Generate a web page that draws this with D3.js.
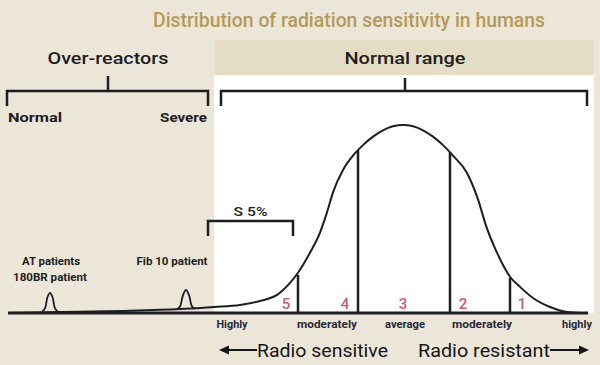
<!DOCTYPE html>
<html>
<head>
<meta charset="utf-8">
<script src="https://cdn.jsdelivr.net/npm/d3@7"></script>
<style>
  html, body { margin: 0; padding: 0; background: #ece6d9; }
  svg { display: block; }
  text { font-family: Roboto, "Noto Sans", sans-serif; }
</style>
</head>
<body>
<svg id="chart" width="600" height="365"></svg>
<script>
// ---------- DATA ----------
// Sensitivity axis: 0 = most sensitive (left) ... 580 = most resistant (right)
const curveX = [0, 52, 112, 172, 206, 232, 252, 269, 282, 290, 302, 312, 319, 325, 335, 345, 355, 365, 375, 385, 395, 405, 415, 425, 435, 445, 459, 470, 478, 489, 502, 512, 525, 542, 559, 572];
const curveY = [0, 0.5, 1.1, 2.1, 3.2, 4.3, 6.4, 9.6, 16.0, 21.4, 32.1, 42.8, 53.5, 64.2, 76.1, 83.7, 89.3, 93.8, 97.2, 99.3, 100, 99.3, 97.2, 93.8, 89.3, 83.7, 74.5, 60.4, 46.5, 32.1, 19.3, 13.9, 8.0, 3.2, 0.5, 0];

const atBumpX = [34, 37, 39.5, 42, 44.5, 47, 50];
const atBumpY = [0.6, 2.5, 8.5, 10.7, 8.5, 2.5, 0.7];
const fibBumpX = [169, 172, 175, 178, 181, 184, 187];
const fibBumpY = [2.0, 3.5, 9.5, 12.3, 9.5, 3.5, 2.3];

const dividerX = [290, 350, 442, 502];
const dividerY = [20.3, 86.6, 85.5, 18.7];

const groupNumbers = ["5", "4", "3", "2", "1"];
const groupNumberX = [278, 337, 395, 455, 514];

const categories = ["Highly", "moderately", "average", "moderately", "highly"];
const categoryX = [224, 319, 397, 474, 569];
const categoryW = [31, 60, 40, 60, 30];

const s5Range = [200, 285];
const patientLabels = ["AT patients", "180BR patient", "Fib 10 patient"];

const titleText = "Distribution of radiation sensitivity in humans";
const groupHeaders = ["Over-reactors", "Normal range"];
const overLabels = ["Normal", "Severe"];
const directionLabels = ["Radio sensitive", "Radio resistant"];

// ---------- DRAWING ----------
const svg = d3.select("#chart");
const x = d3.scaleLinear().domain([0, 580]).range([8, 588]);
const y = d3.scaleLinear().domain([0, 100]).range([313, 125]);

const dark = "#1e1d22";
const numColor = "#c4616b";

// backgrounds
svg.append("rect").attr("x", 0).attr("y", 0).attr("width", 600).attr("height", 365).attr("fill", "#ece6d9");
svg.append("rect").attr("x", 215).attr("y", 40).attr("width", 379).attr("height", 35).attr("fill", "#e4dcc5");
svg.append("rect").attr("x", 214).attr("y", 75).attr("width", 380).attr("height", 238).attr("fill", "#ffffff");

// title
svg.append("text").attr("x", 349).attr("y", 27).attr("text-anchor", "middle")
  .attr("font-size", 21).attr("font-weight", 500).attr("fill", "#b59b57")
  .attr("textLength", 392).attr("lengthAdjust", "spacingAndGlyphs").text(titleText);

// group headers
svg.append("text").attr("x", 108).attr("y", 64).attr("text-anchor", "middle")
  .attr("font-size", 17).attr("font-weight", 500).attr("fill", dark)
  .attr("textLength", 121).attr("lengthAdjust", "spacingAndGlyphs").text(groupHeaders[0]);
svg.append("text").attr("x", 405).attr("y", 64).attr("text-anchor", "middle")
  .attr("font-size", 17).attr("font-weight", 500).attr("fill", dark)
  .attr("textLength", 121).attr("lengthAdjust", "spacingAndGlyphs").text(groupHeaders[1]);

// brackets
function bracket(x1, x2, yy, drop, stemX, stemTop) {
  const g = svg.append("g").attr("fill", "none").attr("stroke", dark).attr("stroke-width", 2.5);
  g.append("path").attr("d", `M${x1},${yy + drop}V${yy}H${x2}V${yy + drop}`);
  if (stemX != null) g.append("line").attr("x1", stemX).attr("x2", stemX).attr("y1", stemTop).attr("y2", yy);
}
bracket(7, 208, 91, 15, 108, 76);
bracket(221, 587, 91, 15, 405, 78);

svg.append("text").attr("x", 8).attr("y", 122).attr("font-size", 13).attr("font-weight", 700)
  .attr("fill", dark).attr("textLength", 54).attr("lengthAdjust", "spacingAndGlyphs").text(overLabels[0]);
svg.append("text").attr("x", 207).attr("y", 122).attr("text-anchor", "end").attr("font-size", 13).attr("font-weight", 700)
  .attr("fill", dark).attr("textLength", 47).attr("lengthAdjust", "spacingAndGlyphs").text(overLabels[1]);

// S 5% bracket
bracket(x(s5Range[0]), x(s5Range[1]), 221, 15, null, null);
svg.append("text").attr("x", (x(s5Range[0]) + x(s5Range[1])) / 2).attr("y", 216).attr("text-anchor", "middle")
  .attr("font-size", 13).attr("font-weight", 500).attr("fill", dark)
  .attr("textLength", 34).attr("lengthAdjust", "spacingAndGlyphs").text("S 5%");

// curve
const mainLine = d3.line().x(d => x(d[0])).y(d => y(d[1])).curve(d3.curveMonotoneX);
const bumpLine = d3.line().x(d => x(d[0])).y(d => y(d[1])).curve(d3.curveCatmullRom.alpha(0.5));
svg.append("path").datum(curveX.map((v, i) => [v, curveY[i]]))
  .attr("d", mainLine).attr("fill", "none").attr("stroke", dark).attr("stroke-width", 2);
svg.append("path").datum(atBumpX.map((v, i) => [v, atBumpY[i]]))
  .attr("d", bumpLine).attr("fill", "none").attr("stroke", dark).attr("stroke-width", 1.8);
svg.append("path").datum(fibBumpX.map((v, i) => [v, fibBumpY[i]]))
  .attr("d", bumpLine).attr("fill", "none").attr("stroke", dark).attr("stroke-width", 1.8);

// dividers
svg.append("g").selectAll("line").data(dividerX).join("line")
  .attr("x1", d => x(d)).attr("x2", d => x(d))
  .attr("y1", y(0)).attr("y2", (d, i) => y(dividerY[i]))
  .attr("stroke", dark).attr("stroke-width", 2.5);

// axis baseline
svg.append("line").attr("x1", x(0)).attr("x2", x(580)).attr("y1", y(0)).attr("y2", y(0))
  .attr("stroke", dark).attr("stroke-width", 3);

// group numbers
svg.append("g").selectAll("text").data(groupNumbers).join("text")
  .attr("x", (d, i) => x(groupNumberX[i])).attr("y", 309).attr("text-anchor", "middle")
  .attr("font-size", 15).attr("font-weight", 500).attr("fill", numColor).text(d => d);

// categories
svg.append("g").selectAll("text").data(categories).join("text")
  .attr("x", (d, i) => x(categoryX[i])).attr("y", 328).attr("text-anchor", "middle")
  .attr("font-size", 11).attr("font-weight", 700).attr("fill", "#2a2838")
  .attr("textLength", (d, i) => categoryW[i]).attr("lengthAdjust", "spacingAndGlyphs").text(d => d);

// patient labels
svg.append("text").attr("x", x(43)).attr("y", 265).attr("text-anchor", "middle")
  .attr("font-size", 11).attr("font-weight", 700).attr("fill", dark)
  .attr("textLength", 58).attr("lengthAdjust", "spacingAndGlyphs").text(patientLabels[0]);
svg.append("text").attr("x", x(42)).attr("y", 281).attr("text-anchor", "middle")
  .attr("font-size", 11).attr("font-weight", 700).attr("fill", dark)
  .attr("textLength", 74).attr("lengthAdjust", "spacingAndGlyphs").text(patientLabels[1]);
svg.append("text").attr("x", x(164)).attr("y", 265).attr("text-anchor", "middle")
  .attr("font-size", 11).attr("font-weight", 700).attr("fill", dark)
  .attr("textLength", 71).attr("lengthAdjust", "spacingAndGlyphs").text(patientLabels[2]);

// direction labels and arrows
svg.append("text").attr("x", 257).attr("y", 357).attr("font-size", 19).attr("font-weight", 400).attr("fill", "#151515")
  .attr("textLength", 131).attr("lengthAdjust", "spacingAndGlyphs").text(directionLabels[0]);
svg.append("text").attr("x", 418).attr("y", 357).attr("font-size", 19).attr("font-weight", 400).attr("fill", "#151515")
  .attr("textLength", 132).attr("lengthAdjust", "spacingAndGlyphs").text(directionLabels[1]);

const ay = 350;
svg.append("line").attr("x1", 226).attr("x2", 257).attr("y1", ay).attr("y2", ay).attr("stroke", "#151515").attr("stroke-width", 2);
svg.append("path").attr("d", `M219,${ay}L229,${ay - 4.5}L229,${ay + 4.5}Z`).attr("fill", "#151515");
svg.append("line").attr("x1", 550).attr("x2", 582).attr("y1", ay).attr("y2", ay).attr("stroke", "#151515").attr("stroke-width", 2);
svg.append("path").attr("d", `M589,${ay}L579,${ay - 4.5}L579,${ay + 4.5}Z`).attr("fill", "#151515");
</script>
</body>
</html>
